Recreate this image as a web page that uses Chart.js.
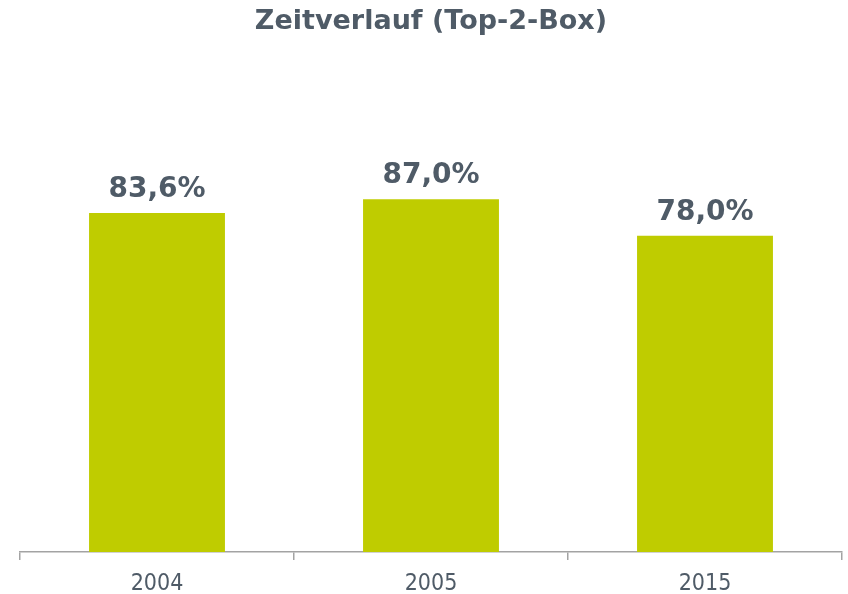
<!DOCTYPE html>
<html>
<head>
<meta charset="utf-8">
<script src="https://cdn.jsdelivr.net/npm/chart.js@4/dist/chart.umd.min.js"></script>
<style>
html,body{margin:0;padding:0;background:#fff;}
#wrap{width:848px;height:594px;}
</style>
</head>
<body>
<div id="wrap"><canvas id="c" width="848" height="594"></canvas></div>
<script>
const categories = ["2004", "2005", "2015"];
const values = [83.6, 87.0, 78.0];
const valueLabels = ["83,6%", "87,0%", "78,0%"];
const titleText = "Zeitverlauf (Top-2-Box)";

const textColor = "#4f5b67";
const barColor = "#bfcc00";
const axisColor = "#a3a3a3";

const labelPlugin = {
  id: "valueLabels",
  afterDatasetsDraw(chart) {
    const ctx = chart.ctx;
    const meta = chart.getDatasetMeta(0);
    ctx.save();
    ctx.font = "bold 28px 'DejaVu Sans', Verdana, sans-serif";
    ctx.fillStyle = textColor;
    ctx.textAlign = "center";
    ctx.textBaseline = "alphabetic";
    meta.data.forEach((bar, i) => {
      ctx.fillText(valueLabels[i], bar.x, bar.y - 16);
    });
    ctx.restore();
  }
};

new Chart(document.getElementById("c"), {
  type: "bar",
  data: {
    labels: categories,
    datasets: [{
      data: values,
      backgroundColor: barColor,
      borderWidth: 0,
      categoryPercentage: 1.0,
      barPercentage: 0.496
    }]
  },
  options: {
    responsive: false,
    devicePixelRatio: 1,
    animation: false,
    layout: { padding: { left: 20, right: 6, top: 0, bottom: 0 } },
    plugins: {
      legend: { display: false },
      tooltip: { enabled: false },
      title: {
        display: true,
        text: titleText,
        color: textColor,
        font: { family: "'DejaVu Sans', Verdana, sans-serif", size: 27, weight: "bold", lineHeight: 1.2 },
        padding: { top: 6, bottom: 108.1 }
      }
    },
    scales: {
      y: {
        display: false,
        min: 0,
        max: 100
      },
      x: {
        offset: true,
        afterFit(scale) { scale.height = 42; },
        grid: {
          display: true,
          offset: true,
          drawOnChartArea: false,
          drawTicks: true,
          tickLength: 8,
          color: axisColor,
          lineWidth: 1.5
        },
        border: { display: true, color: axisColor, width: 1.5 },
        ticks: {
          color: textColor,
          padding: 10,
          font: { family: "'DejaVu Sans Condensed', 'DejaVu Sans', sans-serif", size: 23, lineHeight: 1.2 }
        }
      }
    }
  },
  plugins: [labelPlugin]
});
</script>
</body>
</html>
